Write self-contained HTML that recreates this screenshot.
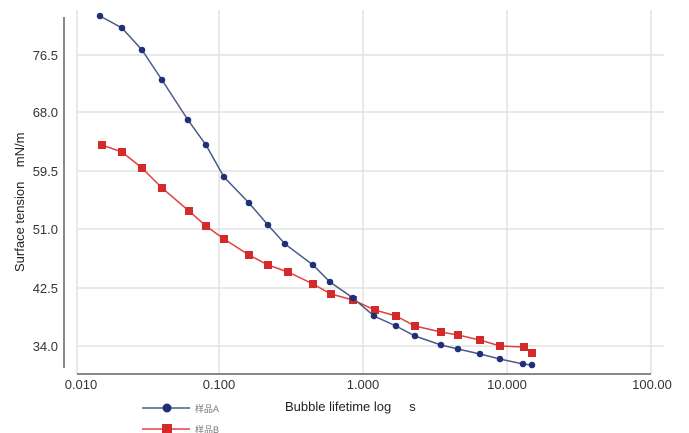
<!DOCTYPE html>
<html><head><meta charset="utf-8"><style>body{margin:0;background:#fff}svg{display:block}</style></head><body>
<svg width="689" height="433" xmlns="http://www.w3.org/2000/svg" font-family="Liberation Sans, Noto Sans CJK SC, sans-serif">
<g stroke="#e2e2e2" stroke-width="1.5">
<line x1="77" y1="10" x2="77" y2="374"/><line x1="219" y1="10" x2="219" y2="374"/><line x1="363" y1="10" x2="363" y2="374"/><line x1="507" y1="10" x2="507" y2="374"/><line x1="651" y1="10" x2="651" y2="374"/>
<line x1="77" y1="55" x2="664" y2="55"/><line x1="77" y1="112" x2="664" y2="112"/><line x1="77" y1="171" x2="664" y2="171"/><line x1="77" y1="229" x2="664" y2="229"/><line x1="77" y1="288" x2="664" y2="288"/><line x1="77" y1="346" x2="664" y2="346"/>
</g>
<line x1="64" y1="17" x2="64" y2="368" stroke="#888" stroke-width="2"/>
<line x1="77" y1="374" x2="651" y2="374" stroke="#888" stroke-width="2"/>
<g font-size="13" fill="#333" text-anchor="end">
<text x="58" y="60">76.5</text><text x="58" y="117">68.0</text><text x="58" y="176">59.5</text><text x="58" y="234">51.0</text><text x="58" y="293">42.5</text><text x="58" y="351">34.0</text>
</g>
<g font-size="13" fill="#333" text-anchor="middle">
<text x="81" y="389">0.010</text><text x="219" y="389">0.100</text><text x="363" y="389">1.000</text><text x="507" y="389">10.000</text><text x="652" y="389">100.00</text>
</g>
<text x="285" y="411" font-size="13" fill="#222">Bubble lifetime log&#160;&#160;&#160;&#160; s</text>
<text transform="translate(24,272) rotate(-90)" font-size="13" fill="#222">Surface tension&#160;&#160;&#160; mN/m</text>
<polyline fill="none" stroke="#e04040" stroke-width="1.5" points="102,145 122,152 142,168 162,188 189,211 206,226 224,239 249,255 268,265 288,272 313,284 331,294 353,300 375,310 396,316 415,326 441,332 458,335 480,340 500,346 524,347 532,353"/>
<g fill="#d42a2a">
<rect x="98" y="141" width="8" height="8"/><rect x="118" y="148" width="8" height="8"/><rect x="138" y="164" width="8" height="8"/><rect x="158" y="184" width="8" height="8"/><rect x="185" y="207" width="8" height="8"/><rect x="202" y="222" width="8" height="8"/><rect x="220" y="235" width="8" height="8"/><rect x="245" y="251" width="8" height="8"/><rect x="264" y="261" width="8" height="8"/><rect x="284" y="268" width="8" height="8"/><rect x="309" y="280" width="8" height="8"/><rect x="327" y="290" width="8" height="8"/><rect x="349" y="296" width="8" height="8"/><rect x="371" y="306" width="8" height="8"/><rect x="392" y="312" width="8" height="8"/><rect x="411" y="322" width="8" height="8"/><rect x="437" y="328" width="8" height="8"/><rect x="454" y="331" width="8" height="8"/><rect x="476" y="336" width="8" height="8"/><rect x="496" y="342" width="8" height="8"/><rect x="520" y="343" width="8" height="8"/><rect x="528" y="349" width="8" height="8"/>
</g>
<polyline fill="none" stroke="#4a5a8a" stroke-width="1.5" points="100,16 122,28 142,50 162,80 188,120 206,145 224,177 249,203 268,225 285,244 313,265 330,282 353,298 374,316 396,326 415,336 441,345 458,349 480,354 500,359 523,364 532,365"/>
<g fill="#1f2f7a">
<circle cx="100" cy="16" r="3.3"/><circle cx="122" cy="28" r="3.3"/><circle cx="142" cy="50" r="3.3"/><circle cx="162" cy="80" r="3.3"/><circle cx="188" cy="120" r="3.3"/><circle cx="206" cy="145" r="3.3"/><circle cx="224" cy="177" r="3.3"/><circle cx="249" cy="203" r="3.3"/><circle cx="268" cy="225" r="3.3"/><circle cx="285" cy="244" r="3.3"/><circle cx="313" cy="265" r="3.3"/><circle cx="330" cy="282" r="3.3"/><circle cx="353" cy="298" r="3.3"/><circle cx="374" cy="316" r="3.3"/><circle cx="396" cy="326" r="3.3"/><circle cx="415" cy="336" r="3.3"/><circle cx="441" cy="345" r="3.3"/><circle cx="458" cy="349" r="3.3"/><circle cx="480" cy="354" r="3.3"/><circle cx="500" cy="359" r="3.3"/><circle cx="523" cy="364" r="3.3"/><circle cx="532" cy="365" r="3.3"/>
</g>
<line x1="142" y1="408" x2="190" y2="408" stroke="#4a5a8a" stroke-width="1.5"/>
<circle cx="167" cy="408" r="4.5" fill="#1f2f7a"/>
<line x1="142" y1="429" x2="190" y2="429" stroke="#e04040" stroke-width="1.5"/>
<rect x="162" y="424" width="10" height="10" fill="#d42a2a"/>
<text x="195" y="412" font-size="9" fill="#777">样品A</text>
<text x="195" y="433" font-size="9" fill="#777">样品B</text>
</svg>
</body></html>
